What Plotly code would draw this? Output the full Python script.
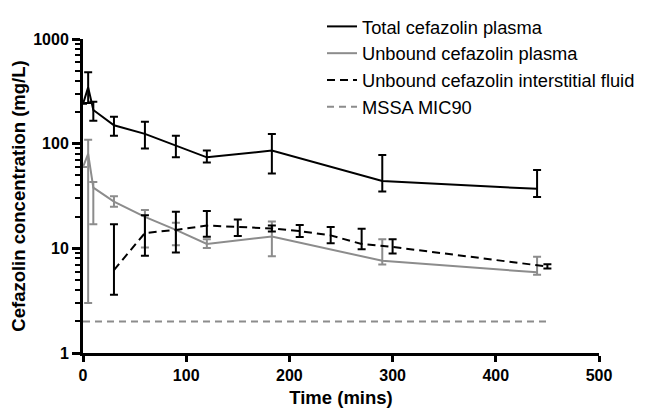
import plotly.graph_objects as go

# Total cefazolin plasma
total_t = [0, 5, 10, 30, 60, 90, 120, 183, 290, 440]
total_v = [240, 345, 210, 150, 124, 96, 74, 86, 44, 37]
total_up = [0, 135, 41, 31, 38, 23, 12, 38, 34, 19]
total_dn = [0, 100, 44, 31, 34, 22, 8, 34, 9, 6]

# Unbound cefazolin plasma
unb_t = [0, 5, 10, 30, 60, 90, 120, 183, 290, 440]
unb_v = [60, 80, 38, 28, 20, 15, 11, 13, 7.6, 5.9]
unb_up = [0, 29, 5, 3.5, 3.2, 2.6, 1.2, 5, 4.6, 2.4]
unb_dn = [0, 77, 21, 3, 9.8, 4.3, 0.9, 4.6, 0.6, 0.3]

# Unbound cefazolin interstitial fluid
isf_t = [30, 60, 90, 120, 150, 183, 210, 240, 270, 300, 450]
isf_v = [6.2, 14, 15, 16.5, 16, 15.5, 14.6, 13.3, 11, 10.3, 6.7]
isf_up = [10.8, 6.7, 7.4, 6.2, 2.9, 1.0, 2.1, 2.7, 4.4, 1.9, 0.35]
isf_dn = [2.6, 5.5, 5.9, 3.6, 2.9, 1.0, 1.8, 2.1, 1.2, 1.35, 0.3]

# MSSA MIC90
mic_t = [0, 450]
mic_v = [2, 2]

BLACK = "#000000"
GREY = "#8c8c8c"
FONT = "Liberation Sans, Arial, sans-serif"

W, H = 650, 417
M = 2
MT = 0
PW, PH = W - 2 * M, H - M - MT
OFF = 8  # page body offset
# plot area in figure pixels
X0, X1 = 83 - OFF, 599 - OFF
Y_TOP, Y_BOT = 39 - OFF, 353 - OFF

fig = go.Figure()

def err(up, dn, color):
    return dict(type="data", symmetric=False, array=up, arrayminus=dn,
                color=color, thickness=2, width=4)

fig.add_trace(go.Scatter(x=total_t, y=total_v, mode="lines", name="Total cefazolin plasma",
                         line=dict(color=BLACK, width=2), error_y=err(total_up, total_dn, BLACK)))
fig.add_trace(go.Scatter(x=unb_t, y=unb_v, mode="lines", name="Unbound cefazolin plasma",
                         line=dict(color=GREY, width=2), error_y=err(unb_up, unb_dn, GREY)))
fig.add_trace(go.Scatter(x=isf_t, y=isf_v, mode="lines", name="Unbound cefazolin interstitial fluid",
                         line=dict(color=BLACK, width=2, dash="8px,5px"),
                         error_y=err(isf_up, isf_dn, BLACK)))
fig.add_trace(go.Scatter(x=mic_t, y=mic_v, mode="lines", name="MSSA MIC90",
                         line=dict(color=GREY, width=2, dash="7px,5px")))

minor_vals = [m * 10 ** e for e in range(0, 3) for m in range(2, 10)]

fig.update_layout(
    width=W, height=H,
    margin=dict(l=M, r=M, t=MT, b=M),
    plot_bgcolor="white", paper_bgcolor="white",
    font=dict(family=FONT, color="black"),
    showlegend=True,
    legend=dict(x=(314 - M) / PW, y=1.0, xanchor="left", yanchor="top",
                font=dict(size=18.3, color="black", family=FONT), bgcolor="rgba(0,0,0,0)",
                tracegroupgap=0, itemwidth=30),
    xaxis=dict(domain=[(X0 - M) / PW, (X1 - M) / PW], automargin=False,
               range=[0, 500], tickvals=[0, 100, 200, 300, 400, 500],
               showline=True, linewidth=3, linecolor="black", mirror=False,
               ticks="outside", ticklen=6, tickwidth=3, tickcolor="black",
               showgrid=False, zeroline=False,
               tickfont=dict(size=16, family=FONT, weight="bold"),
               title=dict(text="<b>Time (mins)</b>", font=dict(size=18.5), standoff=8)),
    yaxis=dict(domain=[(H - M - Y_BOT) / PH, (H - M - Y_TOP) / PH], automargin=False,
               type="log", range=[0, 3], tickvals=[1, 10, 100, 1000],
               ticktext=["1", "10", "100", "1000"],
               showline=True, linewidth=3, linecolor="black",
               ticks="outside", ticklen=8, tickwidth=3, tickcolor="black",
               minor=dict(tickvals=minor_vals, ticks="outside", ticklen=5, tickwidth=2,
                          tickcolor="black", showgrid=False),
               showgrid=False, zeroline=False,
               tickfont=dict(size=16, family=FONT, weight="bold"),
               title=dict(text="<b>Cefazolin concentration (mg/L)</b>", font=dict(size=18.5), standoff=6)),
)

fig.write_html("out.html")
